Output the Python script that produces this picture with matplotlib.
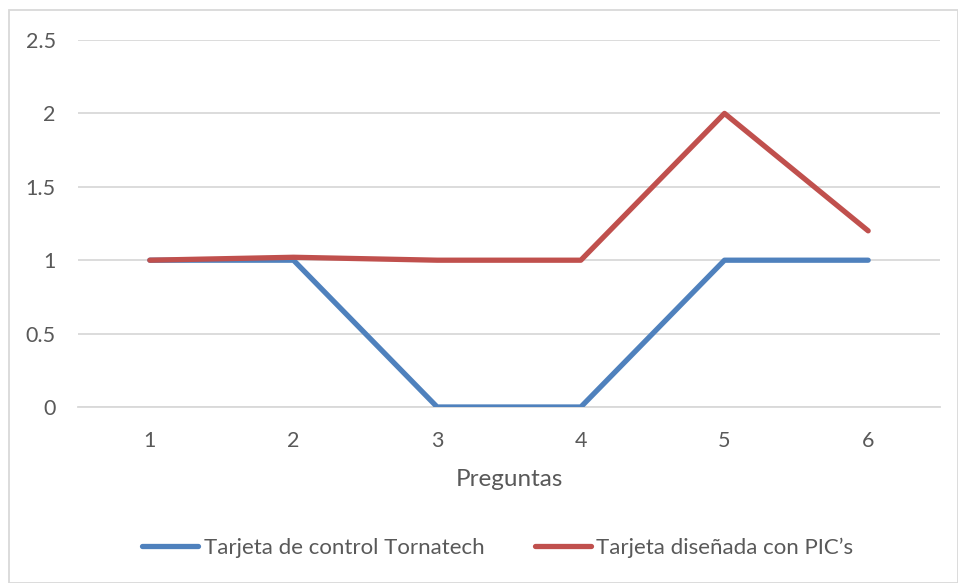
import matplotlib
matplotlib.use("Agg")
import matplotlib.pyplot as plt
from matplotlib.patches import Rectangle

categories = ["1", "2", "3", "4", "5", "6"]
tornatech = [1, 1, 0, 0, 1, 1]
pic = [1, 1.02, 1, 1, 2, 1.2]
yticks = [0, 0.5, 1, 1.5, 2, 2.5]
ytick_labels = ["0", "0.5", "1", "1.5", "2", "2.5"]
series_names = ["Tarjeta de control Tornatech", "Tarjeta diseñada con PIC’s"]
xlabel = "Preguntas"

plt.rcParams['font.family'] = ['Lato', 'DejaVu Sans']
txt = "#595959"

W, H = 958, 583
fig = plt.figure(figsize=(W/100, H/100), dpi=100)
ax = fig.add_axes([78/W, 1-407/H, (940-78)/W, (407-40)/H])

x = list(range(1, len(categories)+1))
ax.plot(x, tornatech, color="#4F81BD", lw=3.8, solid_capstyle="round", solid_joinstyle="round", label=series_names[0], zorder=3)
ax.plot(x, pic, color="#C0504D", lw=3.8, solid_capstyle="round", solid_joinstyle="round", label=series_names[1], zorder=3)

ax.set_xlim(0.5, 6.5)
ax.set_ylim(0, 2.5)
ax.set_yticks(yticks)
ax.set_yticklabels(ytick_labels)
ax.set_xticks(x)
ax.set_xticklabels(categories)
ax.yaxis.grid(True, color="#D9D9D9", lw=1.3)
ax.set_axisbelow(True)
for s in ["top", "right", "left"]:
    ax.spines[s].set_visible(False)
ax.spines["bottom"].set_color("#D9D9D9")
ax.spines["bottom"].set_linewidth(1.3)
ax.tick_params(axis="both", length=0, labelsize=15.5, labelcolor=txt)
ax.tick_params(axis="y", pad=16)
ax.tick_params(axis="x", pad=17)
ax.set_xlabel(xlabel, fontsize=17.5, color=txt, labelpad=13)

leg = fig.legend(loc="center", bbox_to_anchor=(498/W, 1-548/H), ncol=2, frameon=False,
                 fontsize=16, handlelength=2.5, handletextpad=0.25, columnspacing=2.3)
for t in leg.get_texts():
    t.set_color(txt)

fig.patches.append(Rectangle((9/W, 0), (W-9)/W, 1-10/H, transform=fig.transFigure,
                             fill=False, edgecolor="#D9D9D9", lw=1.3))

fig.savefig("out.png", dpi=100)
